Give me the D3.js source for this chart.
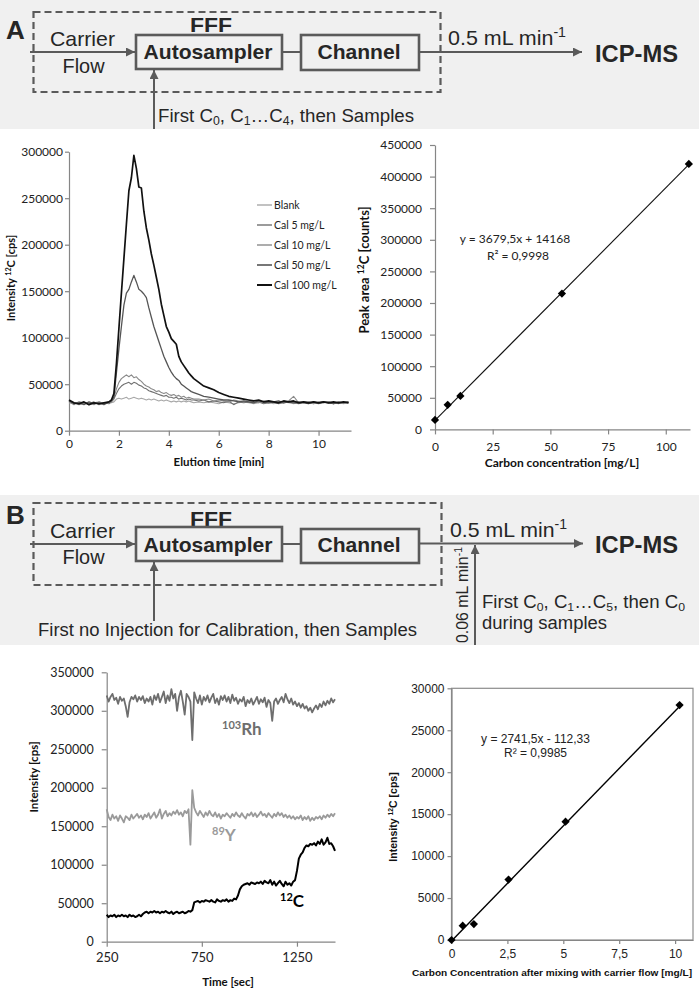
<!DOCTYPE html>
<html><head><meta charset="utf-8">
<script src="https://cdn.jsdelivr.net/npm/d3@7"></script>
<style>body{margin:0;background:#fff}svg{display:block}</style>
</head><body>
<svg id="fig" width="699" height="992"></svg>
<script>
// ---------------- DATA ----------------
// Panel A left: chromatograms (kcps)
const elutionTime = [0,0.2,0.4,0.6,0.8,1.0,1.2,1.4,1.6,
 1.7,1.8,1.9,2.0,2.1,2.2,2.3,2.4,2.5,2.6,
 2.7,2.8,2.9,3.0,3.1,3.2,3.3,3.4,3.5,3.6,
 3.7,3.8,3.9,4.0,4.1,4.2,4.3,4.4,4.5,4.6,
 4.7,4.8,4.9,5.0,
 5.2,5.4,5.6,5.8,6.0,6.2,6.4,6.6,6.8,7.0,
 7.2,7.4,7.6,7.8,8.0,8.2,8.4,8.6,8.8,9.0,
 9.2,9.4,9.6,9.8,10.0,10.2,10.4,10.6,10.8,11.0,
 11.2];
const blank = [30,29,31,30,28,30,31,29,30,
 30,31,34,35,34,35,36,34,35,36,
 35,34,35,34,33,34,33,34,33,32,
 33,32,33,32,31,32,31,32,31,32,
 31,32,31,30,
 31,30,31,30,29,31,30,29,30,31,
 30,29,30,31,30,29,30,31,30,29,
 30,31,30,29,30,31,30,29,30,29,
 30];
const cal5 = [32,30,28,30,29,31,28,30,29,
 31,34,40,45,48,50,51,52,50,52,
 51,49,48,46,45,43,42,41,40,39,
 38,37,38,36,36,35,36,34,35,34,
 33,34,33,33,
 32,33,31,32,31,30,32,28,31,30,
 31,30,31,29,30,31,29,30,31,30,
 29,30,31,30,29,30,31,29,30,30,
 31];
const cal10 = [31,28,31,29,30,28,31,29,30,
 32,35,45,52,56,58,60,58,60,57,
 58,55,53,50,48,47,45,44,42,43,
 41,40,41,39,38,39,37,38,36,37,
 35,36,35,34,
 34,33,34,32,33,32,31,33,32,31,
 32,31,30,32,31,30,31,30,32,37,
 30,31,30,29,31,30,31,30,29,31,
 30];
const cal50 = [32,29,30,28,31,29,30,28,31,
 32,36,62,88,112,135,148,152,160,167,
 160,152,150,147,143,132,122,112,104,96,
 88,80,74,68,63,59,56,54,50,48,
 46,44,42,41,
 39,37,36,35,34,33,33,32,31,32,
 31,30,32,31,30,31,32,30,31,30,
 31,30,29,31,30,31,30,29,31,30,
 31];
const cal100 = [33,30,29,31,28,30,29,30,31,
 33,40,72,110,148,185,222,258,272,296,
 282,262,261,236,218,205,190,178,165,152,
 136,124,112,106,99,96,93,80,74,70,
 66,62,59,56,
 52,48,46,44,41,39,37,36,35,34,
 33,32,33,31,32,31,30,32,31,32,
 30,31,30,31,30,31,30,31,30,31,
 30];
const legendLabels = ["Blank","Cal 5 mg/L","Cal 10 mg/L","Cal 50 mg/L","Cal 100 mg/L"];
const aLeftXTicks = [0,2,4,6,8,10];
const aLeftYTicks = [0,50000,100000,150000,200000,250000,300000];

// Panel A right: calibration
const peakConc = [0,5.5,11,55,110];
const peakArea = [15000,39000,53000,215000,420000];
const aFitSlope = 3679.5, aFitIntercept = 14168;
const aRightXTicks = [0,25,50,75,100];
const aRightYTicks = [0,50000,100000,150000,200000,250000,300000,350000,400000,450000];

// Panel B left: time traces (kcps)
const timeSec = [
250,260,270,280,290,300,310,320,330,340,
350,360,370,380,390,400,410,420,430,440,
450,460,470,480,490,500,510,520,530,540,
550,560,570,580,590,600,610,620,630,640,
650,660,670,680,690,700,710,720,730,740,
750,760,770,780,790,800,810,820,830,840,
850,860,870,880,890,900,910,920,930,940,
950,960,970,980,990,1000,1010,1020,1030,1040,
1050,1060,1070,1080,1090,1100,1110,1120,1130,1140,
1150,1160,1170,1180,1190,1200,1210,1220,1230,1240,
1250,1260,1270,1280,1290,1300,1310,1320,1330,1340,
1350,1360,1370,1380,1390,1400,1410,1420,1430,1440,
1450];
const rh103 = [
320,312,318,322,314,317,309,318,313,316,
306,292,311,318,315,320,312,318,314,319,
310,316,312,318,308,320,314,322,311,318,
325,310,320,313,328,316,322,300,318,326,
312,295,322,318,312,262,324,316,310,320,
308,318,313,320,311,317,322,310,316,308,
319,314,320,312,318,310,321,313,317,309,
315,312,318,306,314,310,316,308,313,318,
309,315,311,317,305,314,310,287,312,316,
309,314,318,311,322,315,310,316,308,312,
306,310,304,309,303,306,300,304,298,303,
307,302,309,305,312,307,313,309,316,311,
315];
const y89 = [
172,162,158,165,160,163,157,164,160,155,
163,161,158,165,160,163,166,161,164,159,
165,162,167,160,164,168,161,165,172,160,
166,170,163,167,164,169,166,171,165,168,
163,170,167,172,126,197,174,168,164,170,
166,162,168,164,170,165,163,168,162,166,
160,165,163,167,164,161,166,163,168,164,
162,167,163,160,166,164,168,163,167,162,
165,169,164,166,162,167,164,161,166,163,
168,164,167,162,165,161,164,160,163,159,
162,160,164,158,162,159,163,157,161,158,
162,160,163,159,164,161,165,162,166,163,
167];
const c12 = [
35,32,34,33,35,32,34,33,35,33,
34,32,35,33,34,32,33,35,33,36,
38,39,37,39,38,40,38,39,37,39,
38,40,38,37,39,36,38,39,37,38,
39,37,38,40,39,41,51,52,53,51,
53,52,54,53,52,54,52,51,55,53,
52,54,53,55,52,54,53,56,55,60,
68,72,74,75,76,74,77,76,75,77,
76,78,75,79,77,76,80,74,78,73,
76,79,75,72,78,74,76,73,78,80,
92,108,113,116,122,125,124,127,126,128,
125,130,127,133,126,129,135,127,128,124,
118];
const bLeftXTicks = [250,750,1250];
const bLeftYTicks = [0,50000,100000,150000,200000,250000,300000,350000];

// Panel B right: calibration after mixing
const mixConc = [0,0.5,1.0,2.55,5.1,10.2];
const intensityC = [0,1700,1900,7200,14100,28000];
const bFitSlope = 2741.5, bFitIntercept = -112.33;
const bRightXTicks = [0,2.5,5,7.5,10];
const bRightXTickLabels = ["0","2,5","5","7,5","10"];
const bRightYTicks = [0,5000,10000,15000,20000,25000,30000];

// ---------------- DRAWING ----------------
const svg = d3.select("#fig");
const CAL = "Lato, 'Open Sans', sans-serif";
const ARIAL = "'Liberation Sans', Arial, sans-serif";
const AXC = "#868686";
const DG = "#5a5a5a";   // diagram line colour
const DT = "#262626";   // diagram text colour

const defs = svg.append("defs");
defs.append("marker").attr("id","arr").attr("viewBox","0 0 10 10")
  .attr("refX",10).attr("refY",5).attr("markerWidth",10).attr("markerHeight",9)
  .attr("markerUnits","userSpaceOnUse").attr("orient","auto")
  .append("path").attr("d","M0,0L10,5L0,10z").attr("fill",DG);

function rich(sel, parts, base) {
  let shift = 0;
  parts.forEach(([t, k]) => {
    const target = k === "sub" ? base*0.18 : k === "sup" ? -base*0.38 : 0;
    const ts = sel.append("tspan").text(t).attr("dy", target - shift);
    if (k) ts.attr("font-size", base*0.66);
    shift = target;
  });
  return sel;
}
function dtext(x, y, parts, size, opts={}) {
  const t = svg.append("text").attr("x", x).attr("y", y)
    .attr("font-family", ARIAL).attr("font-size", size).attr("fill", DT)
    .attr("font-weight", opts.bold ? "bold" : "normal")
    .attr("text-anchor", opts.anchor || "start");
  if (opts.len) t.attr("textLength", opts.len).attr("lengthAdjust", "spacingAndGlyphs");
  if (opts.transform) t.attr("transform", opts.transform);
  rich(t, typeof parts === "string" ? [[parts]] : parts, size);
  return t;
}
function dline(x1,y1,x2,y2,arrow,w=2) {
  const l = svg.append("line").attr("x1",x1).attr("y1",y1).attr("x2",x2).attr("y2",y2)
    .attr("stroke",DG).attr("stroke-width",w);
  if (arrow) l.attr("marker-end","url(#arr)");
}
function drect(x,y,w,h,dash) {
  svg.append("rect").attr("x",x).attr("y",y).attr("width",w).attr("height",h)
    .attr("fill","none").attr("stroke",DG).attr("stroke-width", dash ? 2.2 : 2.6)
    .attr("stroke-dasharray", dash ? "7,4" : null);
}

// ---- Diagram A ----
svg.append("rect").attr("x",0).attr("y",0).attr("width",699).attr("height",129).attr("fill","#f0f0f0");
dtext(6, 39, "A", 26, {bold:true});
drect(33.5, 12, 407, 80, true);
dtext(211, 32, "FFF", 21, {bold:true, anchor:"middle", len:42});
dtext(82.5, 46, "Carrier", 21, {anchor:"middle", len:65});
dtext(83.5, 73, "Flow", 21, {anchor:"middle", len:42});
dline(30, 52, 135, 52, true);
drect(136, 35, 146, 34);
dtext(208, 59, "Autosampler", 21, {bold:true, anchor:"middle", len:129});
dline(282, 52, 301, 52, false);
drect(301, 35, 118, 35);
dtext(359, 59, "Channel", 21, {bold:true, anchor:"middle", len:83});
dline(419, 52, 582, 52, true);
dtext(448, 45, [["0.5 mL min"],["-1","sup"]], 21, {len:118});
dtext(595, 62, "ICP-MS", 24, {bold:true, len:83});
dline(154, 129, 154, 70, true);
dtext(158, 122, [["First C"],["0","sub"],[", C"],["1","sub"],["…C"],["4","sub"],[", then Samples"]], 18, {len:256});

// ---- Diagram B ----
svg.append("rect").attr("x",0).attr("y",495).attr("width",699).attr("height",150).attr("fill","#f0f0f0");
dtext(6, 524, "B", 26, {bold:true});
drect(33.5, 503, 408, 82, true);
dtext(211, 526, "FFF", 21, {bold:true, anchor:"middle", len:42});
dtext(82.5, 538, "Carrier", 21, {anchor:"middle", len:65});
dtext(83.5, 564, "Flow", 21, {anchor:"middle", len:42});
dline(30, 544, 135, 544, true);
drect(136, 527, 146, 34);
dtext(208, 552, "Autosampler", 21, {bold:true, anchor:"middle", len:129});
dline(282, 544, 301, 544, false);
drect(301, 529, 118, 34);
dtext(359, 552, "Channel", 21, {bold:true, anchor:"middle", len:83});
dline(419, 543.5, 583, 543.5, true);
dtext(450, 537, [["0.5 mL min"],["-1","sup"]], 21, {len:117});
dtext(595, 553, "ICP-MS", 24, {bold:true, len:83});
dline(475, 645, 475, 545, true);
dtext(0, 0, [["0.06 mL min"],["-1","sup"]], 17, {len:96, transform:"translate(468,643) rotate(-90)"});
dtext(482, 608, [["First C"],["0","sub"],[", C"],["1","sub"],["…C"],["5","sub"],[", then C"],["0","sub"]], 17.5, {len:203});
dtext(482, 629, "during samples", 17.5, {len:125});
dline(154, 621, 154, 562, true);
dtext(38, 636, "First no Injection for Calibration, then Samples", 18, {len:379});

// ---- axis helper ----
function styleAxis(g, font, size) {
  g.select(".domain").attr("stroke", AXC).attr("stroke-width", 1.2);
  g.selectAll(".tick line").attr("stroke", AXC).attr("stroke-width", 1.2);
  g.selectAll(".tick text").attr("font-family", font).attr("font-size", size).attr("fill", "#222");
}
function label(x, y, parts, size, font, rot, color="#111", weight="bold") {
  const t = svg.append("text").attr("font-family", font).attr("font-size", size)
    .attr("font-weight", weight).attr("fill", color).attr("text-anchor", "middle");
  if (rot) t.attr("transform", `translate(${x},${y}) rotate(-90)`);
  else t.attr("x", x).attr("y", y);
  rich(t, typeof parts === "string" ? [[parts]] : parts, size);
  return t;
}

// ---- Chart A left ----
{
  const x = d3.scaleLinear([0, 11.3], [69, 351]);
  const y = d3.scaleLinear([0, 300000], [430.7, 151.7]);
  const gx = svg.append("g").attr("transform", `translate(0,${y(0)})`)
    .call(d3.axisBottom(x).tickValues(aLeftXTicks).tickSize(5).tickSizeOuter(0).tickPadding(4));
  styleAxis(gx, CAL, 12);
  const gy = svg.append("g").attr("transform", `translate(${x(0)},0)`)
    .call(d3.axisLeft(y).tickValues(aLeftYTicks).tickSize(4).tickSizeOuter(0).tickPadding(2).tickFormat(d3.format("d")));
  styleAxis(gy, CAL, 12);
  const series = [blank, cal5, cal10, cal50, cal100];
  const styles = [
    {c:"#a8a8a8", w:1.1}, {c:"#707070", w:1.1}, {c:"#8a8a8a", w:1.1}, {c:"#555", w:1.3}, {c:"#111", w:1.7}
  ];
  const line = d3.line().x((d,i) => x(elutionTime[i])).y(d => y(d*1000));
  series.forEach((s, k) => {
    svg.append("path").datum(s).attr("d", line).attr("fill","none")
      .attr("stroke", styles[k].c).attr("stroke-width", styles[k].w).attr("stroke-linejoin","round");
  });
  legendLabels.forEach((lab, k) => {
    const ly = 205 + k*20;
    svg.append("line").attr("x1",257).attr("x2",272).attr("y1",ly).attr("y2",ly)
      .attr("stroke", styles[k].c).attr("stroke-width", styles[k].w + 0.3);
    svg.append("text").attr("x",274).attr("y",ly).attr("dy","0.35em")
      .attr("font-family",CAL).attr("font-size",10.5).attr("fill","#222").text(lab);
  });
  label(15, 278, [["Intensity "],["12","sup"],["C [cps]"]], 11, CAL, true);
  label(219, 466, "Elution time [min]", 11.5, CAL, false);
}

// ---- Chart A right ----
{
  const x = d3.scaleLinear([0, 110.5], [435, 690]);
  const y = d3.scaleLinear([0, 450000], [429.4, 145]);
  const gx = svg.append("g").attr("transform", `translate(0,${y(0)})`)
    .call(d3.axisBottom(x).tickValues(aRightXTicks).tickSize(5).tickSizeOuter(0).tickPadding(8));
  styleAxis(gx, CAL, 12);
  const gy = svg.append("g").attr("transform", `translate(${x(0)},0)`)
    .call(d3.axisLeft(y).tickValues(aRightYTicks).tickSize(5).tickSizeOuter(0).tickPadding(8).tickFormat(d3.format("d")));
  styleAxis(gy, CAL, 12);
  const x0 = 0, x1 = 110.5;
  svg.append("line").attr("x1", x(x0)).attr("y1", y(aFitSlope*x0 + aFitIntercept))
    .attr("x2", x(x1)).attr("y2", y(aFitSlope*x1 + aFitIntercept))
    .attr("stroke","#111").attr("stroke-width",1.1);
  const sym = d3.symbol(d3.symbolSquare, 34);
  peakConc.forEach((c, i) => {
    svg.append("path").attr("d", sym())
      .attr("transform", `translate(${x(c)},${y(peakArea[i])}) rotate(45)`).attr("fill","#000");
  });
  svg.append("text").attr("x",515).attr("y",243).attr("text-anchor","middle")
    .attr("font-family",CAL).attr("font-size",12).attr("fill","#222").text("y = 3679,5x + 14168");
  svg.append("text").attr("x",518).attr("y",260).attr("text-anchor","middle")
    .attr("font-family",CAL).attr("font-size",12).attr("fill","#222").text("R² = 0,9998");
  label(369, 270, [["Peak area "],["12","sup"],["C [counts]"]], 13, CAL, true);
  label(562, 467, "Carbon concentration [mg/L]", 12, CAL, false);
}

// ---- Chart B left ----
{
  const x = d3.scaleLinear([250, 1450], [106.7, 335]);
  const y = d3.scaleLinear([0, 350000], [941.7, 672.3]);
  const gx = svg.append("g").attr("transform", `translate(0,${y(0)})`)
    .call(d3.axisBottom(x).tickValues(bLeftXTicks).tickSize(5).tickSizeOuter(0).tickPadding(6).tickFormat(d3.format("d")));
  styleAxis(gx, CAL, 13);
  const gy = svg.append("g").attr("transform", `translate(${x(250)},0)`)
    .call(d3.axisLeft(y).tickValues(bLeftYTicks).tickSize(5).tickSizeOuter(0).tickPadding(8).tickFormat(d3.format("d")));
  styleAxis(gy, CAL, 12.5);
  const line = d3.line().x((d,i) => x(timeSec[i])).y(d => y(d*1000));
  [[rh103,"#6e6e6e",1.8],[y89,"#9a9a9a",1.8],[c12,"#000",2]].forEach(([s,c,w]) => {
    svg.append("path").datum(s).attr("d", line).attr("fill","none")
      .attr("stroke", c).attr("stroke-width", w).attr("stroke-linejoin","round");
  });
  const tl = (xx, yy, sup, main, color) => {
    const t = svg.append("text").attr("x", xx).attr("y", yy).attr("font-family", CAL)
      .attr("font-weight","bold").attr("fill", color);
    t.append("tspan").text(sup).attr("font-size", 11).attr("dy", -6);
    t.append("tspan").text(main).attr("font-size", 17).attr("dy", 6);
  };
  tl(222, 735, "103", "Rh", "#6e6e6e");
  tl(212, 841, "89", "Y", "#9a9a9a");
  tl(280, 907, "12", "C", "#000");
  label(38, 777, "Intensity [cps]", 11.5, CAL, true);
  label(228, 986, "Time [sec]", 11.5, CAL, false);
}

// ---- Chart B right ----
{
  const x = d3.scaleLinear([0, 10.8], [451.5, 693]);
  const y = d3.scaleLinear([0, 30000], [940, 688.3]);
  svg.append("rect").attr("x", x(0)).attr("y", y(30000)).attr("width", x(10.8)-x(0))
    .attr("height", y(0)-y(30000)).attr("fill","none").attr("stroke","#8c8c8c").attr("stroke-width",1.2);
  const gx = svg.append("g").attr("transform", `translate(0,${y(0)})`)
    .call(d3.axisBottom(x).tickValues(bRightXTicks).tickSize(4).tickSizeOuter(0).tickPadding(5)
      .tickFormat((d,i) => bRightXTickLabels[i]));
  styleAxis(gx, ARIAL, 12);
  const gy = svg.append("g").attr("transform", `translate(${x(0)},0)`)
    .call(d3.axisLeft(y).tickValues(bRightYTicks).tickSize(4).tickSizeOuter(0).tickPadding(3).tickFormat(d3.format("d")));
  styleAxis(gy, ARIAL, 12);
  const x0 = 0, x1 = 10.25;
  svg.append("line").attr("x1", x(x0)).attr("y1", y(bFitSlope*x0 + bFitIntercept))
    .attr("x2", x(x1)).attr("y2", y(bFitSlope*x1 + bFitIntercept))
    .attr("stroke","#000").attr("stroke-width",1.4);
  const sym = d3.symbol(d3.symbolSquare, 34);
  mixConc.forEach((c, i) => {
    svg.append("path").attr("d", sym())
      .attr("transform", `translate(${x(c)},${y(intensityC[i])}) rotate(45)`).attr("fill","#000");
  });
  svg.append("text").attr("x",535.5).attr("y",743).attr("text-anchor","middle")
    .attr("font-family",ARIAL).attr("font-size",12).attr("fill","#222").text("y = 2741,5x - 112,33");
  svg.append("text").attr("x",535.5).attr("y",757).attr("text-anchor","middle")
    .attr("font-family",ARIAL).attr("font-size",12).attr("fill","#222").text("R² = 0,9985");
  label(397, 817, [["Intensity "],["12","sup"],["C [cps]"]], 10.5, ARIAL, true);
  label(552, 976, "Carbon Concentration after mixing with carrier flow [mg/L]", 9.3, ARIAL, false)
    .attr("textLength", 280).attr("lengthAdjust","spacingAndGlyphs");
}
</script>
</body></html>
